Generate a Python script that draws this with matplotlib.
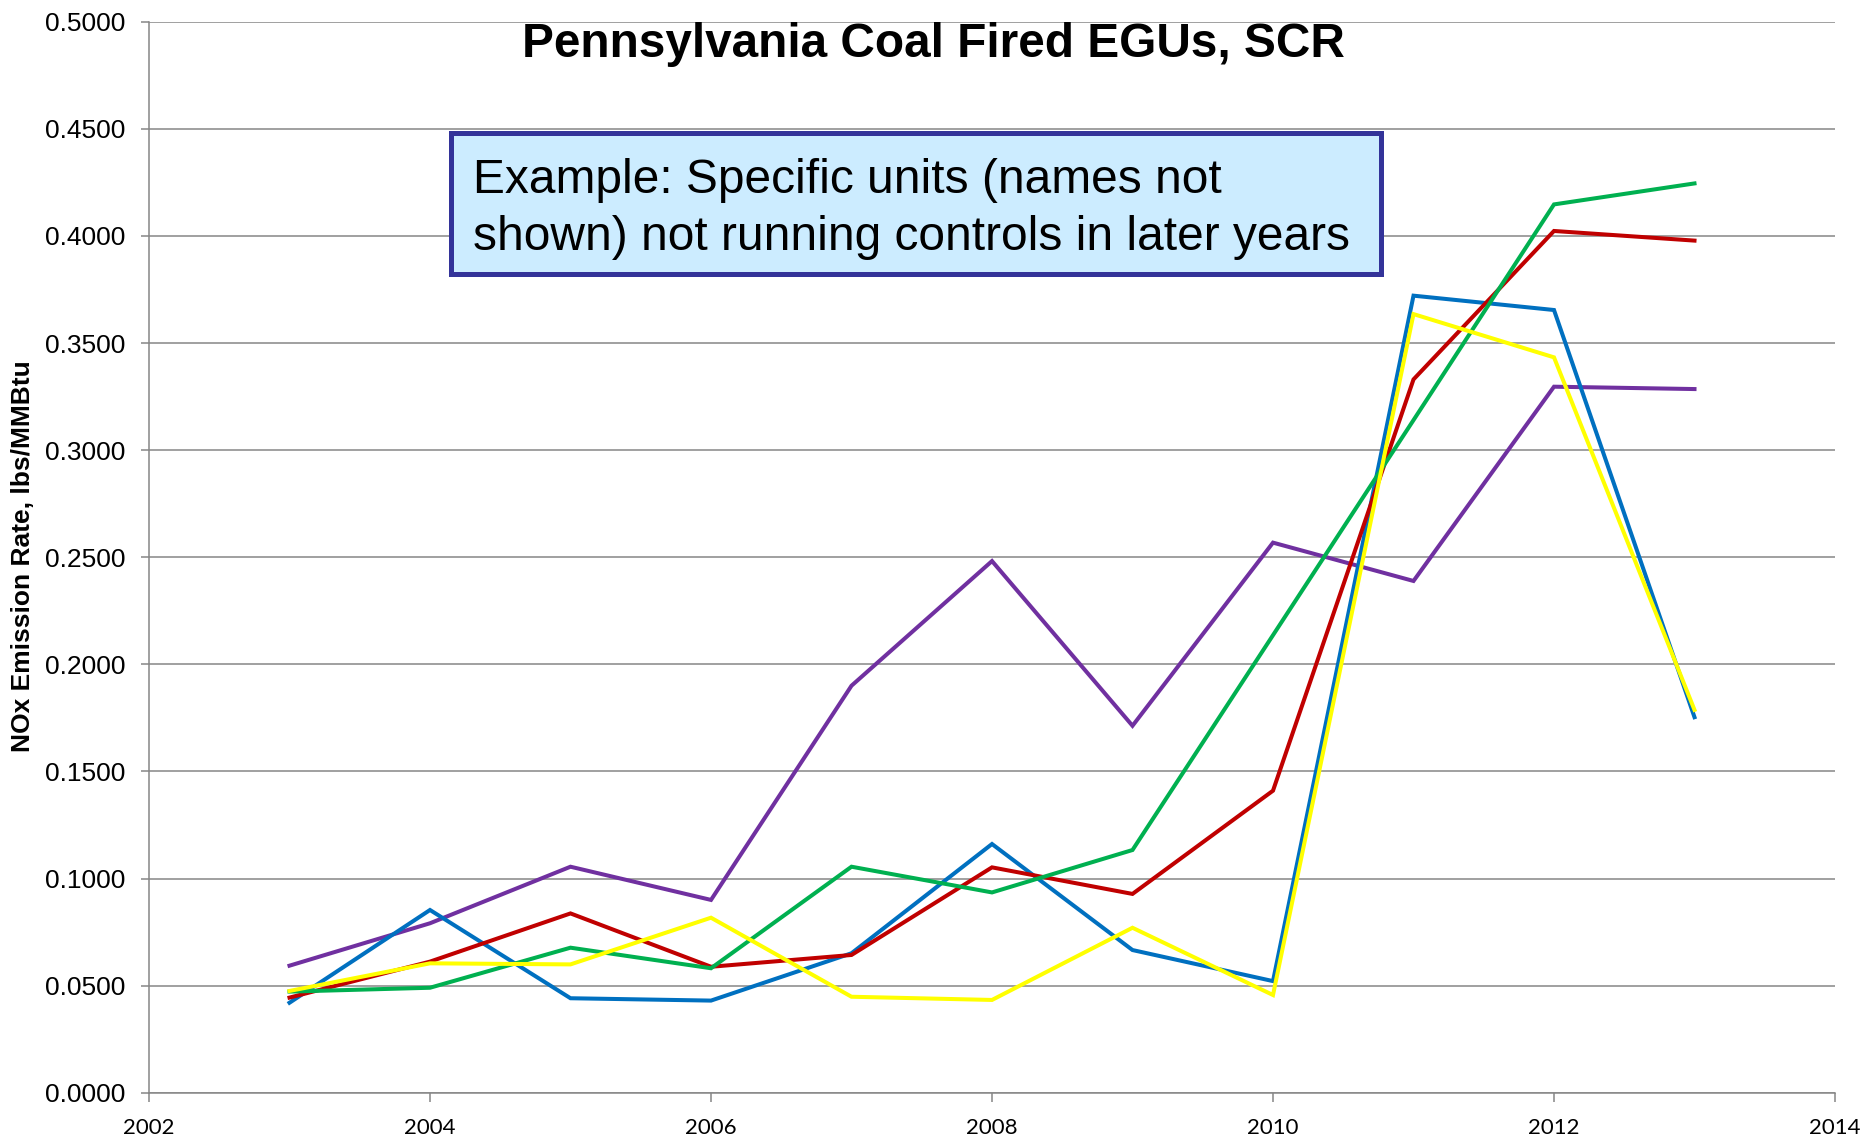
import matplotlib.pyplot as plt
from matplotlib.patches import Rectangle

# ------------------------------------------------------------------
# NOx emission rate (lbs/MMBtu) for five PA coal units with SCR
# ------------------------------------------------------------------
years = [2003, 2004, 2005, 2006, 2007, 2008, 2009, 2010, 2011, 2012, 2013]

unit_purple = [0.0593, 0.0791, 0.1055, 0.0900, 0.1900, 0.2482, 0.1713, 0.2568, 0.2389, 0.3296, 0.3285]
unit_blue = [0.0420, 0.0853, 0.0441, 0.0430, 0.0651, 0.1161, 0.0666, 0.0521, 0.3721, 0.3654, 0.1753]
unit_red = [0.0444, 0.0612, 0.0837, 0.0588, 0.0643, 0.1052, 0.0928, 0.1410, 0.3330, 0.4023, 0.3978]
unit_green = [0.0472, 0.0490, 0.0677, 0.0581, 0.1055, 0.0935, 0.1133, 0.2136, 0.3140, 0.4147, 0.4245]
unit_yellow = [0.0475, 0.0604, 0.0599, 0.0817, 0.0448, 0.0433, 0.0770, 0.0456, 0.3635, 0.3433, 0.1787]

x_ticks = [2002, 2004, 2006, 2008, 2010, 2012, 2014]
y_ticks = [0.0, 0.05, 0.10, 0.15, 0.20, 0.25, 0.30, 0.35, 0.40, 0.45, 0.50]

title = "Pennsylvania Coal Fired EGUs, SCR"
y_label = "NOx Emission Rate, lbs/MMBtu"
note_lines = ["Example: Specific units (names not",
              "shown) not running controls in later years"]

# ----------------------------
# Figure / axes
# ----------------------------
W, H = 1865, 1147
fig = plt.figure(figsize=(W / 100, H / 100), dpi=100)
ax = fig.add_axes([149 / W, 1 - 1092.7 / H, (1835 - 149) / W, (1092.7 - 21.7) / H])

gray = "#868686"
series = [
    (unit_purple, "#7030A0"),
    (unit_blue, "#0070C0"),
    (unit_red, "#C00000"),
    (unit_green, "#00B050"),
    (unit_yellow, "#FFFF00"),
]
for vals, col in series:
    ax.plot(years, vals, color=col, linewidth=2.9, solid_joinstyle="miter", zorder=3)

ax.set_xlim(2002, 2014)
ax.set_ylim(0, 0.5)
ax.set_xticks(x_ticks)
ax.set_yticks(y_ticks)
ax.set_yticklabels([f"{v:.4f}" for v in y_ticks], fontfamily="Liberation Sans", fontsize=19)
ax.set_xticklabels([str(v) for v in x_ticks], fontfamily="Lato", fontsize=16)

ax.yaxis.grid(True, color=gray, linewidth=1.1)
ax.set_axisbelow(True)
for side in ["top", "right"]:
    ax.spines[side].set_visible(False)
for side in ["left", "bottom"]:
    ax.spines[side].set_color(gray)
    ax.spines[side].set_linewidth(1.1)
ax.tick_params(axis="y", direction="out", length=5.8, width=1.1, color=gray, pad=11)
ax.tick_params(axis="x", direction="out", length=6.5, width=1.1, color=gray, pad=12)

# ----------------------------
# Title, y label, note box
# ----------------------------
fig.text(933 / W, 1 - 57 / H, title, ha="center", va="baseline",
         fontfamily="Liberation Sans", fontweight="bold", fontsize=34.4)

fig.text(23 / W, 1 - 556 / H, y_label, rotation=90, ha="center", va="center",
         fontfamily="Liberation Sans", fontweight="bold", fontsize=19)

box = Rectangle((451 / W, 1 - 274 / H), 930 / W, 141 / H, transform=fig.transFigure,
                facecolor="#CCECFF", edgecolor="#333399", linewidth=3.6, zorder=5)
fig.add_artist(box)
for line, base in zip(note_lines, [193, 250]):
    fig.text(473 / W, 1 - base / H, line, ha="left", va="baseline",
             fontfamily="Liberation Sans", fontsize=34.5, zorder=6)

fig.savefig("out.png", dpi=100)
